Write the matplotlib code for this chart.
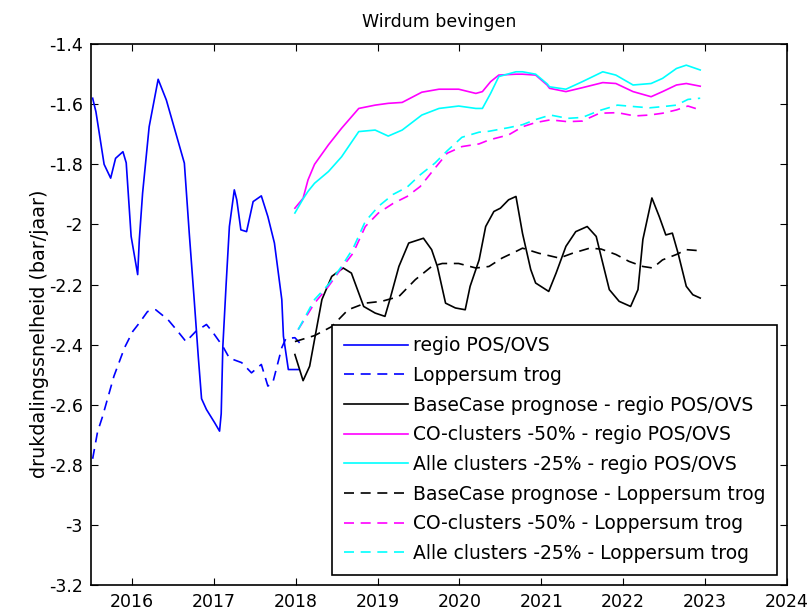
import matplotlib
matplotlib.use("Agg")
import matplotlib.pyplot as plt

# regio POS/OVS (gemeten)
regio_x = [2015.52, 2015.56, 2015.66, 2015.74, 2015.80, 2015.89, 2015.93, 2015.99, 2016.07, 2016.09,
           2016.13, 2016.21, 2016.32, 2016.42, 2016.64, 2016.70, 2016.76, 2016.81, 2016.85, 2016.91,
           2017.01, 2017.07, 2017.09, 2017.11, 2017.15, 2017.19, 2017.25, 2017.28, 2017.33, 2017.40,
           2017.48, 2017.58, 2017.66, 2017.74, 2017.83, 2017.85, 2017.91, 2018.03]
regio_y = [-1.58, -1.625, -1.80, -1.846, -1.78, -1.758, -1.795, -2.04, -2.167, -2.05,
           -1.896, -1.675, -1.517, -1.586, -1.796, -2.03, -2.25, -2.44, -2.58, -2.616,
           -2.66, -2.688, -2.63, -2.406, -2.2, -2.007, -1.885, -1.918, -2.018, -2.024,
           -1.924, -1.905, -1.974, -2.062, -2.25, -2.372, -2.483, -2.483]

# Loppersum trog (gemeten)
lop_x = [2015.52, 2015.58, 2015.64, 2015.78, 2015.91, 2016.01, 2016.09, 2016.19, 2016.29, 2016.44,
         2016.56, 2016.66, 2016.78, 2016.91, 2016.99, 2017.11, 2017.19, 2017.34, 2017.46, 2017.58,
         2017.66, 2017.72, 2017.83, 2017.88, 2017.99, 2018.05]
lop_y = [-2.78, -2.69, -2.64, -2.505, -2.41, -2.356, -2.328, -2.29, -2.284, -2.317,
         -2.356, -2.39, -2.356, -2.333, -2.36, -2.406, -2.445, -2.46, -2.494, -2.466,
         -2.538, -2.527, -2.41, -2.38, -2.377, -2.395]

# prognoses regio POS/OVS
prog_x = [2017.99, 2018.09, 2018.17, 2018.23, 2018.32, 2018.44, 2018.58, 2018.68, 2018.83, 2018.97,
          2019.09, 2019.15, 2019.26, 2019.38, 2019.56, 2019.66, 2019.73, 2019.83, 2019.95, 2020.07,
          2020.13, 2020.24, 2020.32, 2020.42, 2020.50, 2020.60, 2020.69, 2020.77, 2020.87, 2020.93,
          2021.09, 2021.18, 2021.30, 2021.42, 2021.56, 2021.67, 2021.73, 2021.83, 2021.95, 2022.09,
          2022.18, 2022.24, 2022.35, 2022.44, 2022.52, 2022.60, 2022.67, 2022.77, 2022.85, 2022.94]
base_regio = [-2.433, -2.52, -2.472, -2.383, -2.25, -2.173, -2.145, -2.162, -2.273, -2.295,
              -2.306, -2.25, -2.14, -2.062, -2.046, -2.084, -2.14, -2.262, -2.278, -2.284,
              -2.206, -2.118, -2.007, -1.957, -1.946, -1.918, -1.907, -2.03, -2.15, -2.195,
              -2.223, -2.162, -2.073, -2.024, -2.007, -2.04, -2.107, -2.217, -2.256, -2.273,
              -2.217, -2.05, -1.912, -1.974, -2.035, -2.029, -2.096, -2.206, -2.234, -2.245]

clus_x = [2017.99, 2018.09, 2018.15, 2018.23, 2018.40, 2018.56, 2018.77, 2018.97, 2019.13, 2019.30,
          2019.54, 2019.75, 2019.99, 2020.20, 2020.28, 2020.38, 2020.48, 2020.69, 2020.77, 2020.93,
          2021.07, 2021.10, 2021.30, 2021.50, 2021.75, 2021.91, 2022.12, 2022.34, 2022.48, 2022.65,
          2022.77, 2022.94]
co50_regio = [-1.946, -1.913, -1.852, -1.80, -1.735, -1.68, -1.614, -1.603, -1.597, -1.594,
              -1.56, -1.55, -1.55, -1.564, -1.558, -1.525, -1.503, -1.50, -1.50, -1.503,
              -1.536, -1.547, -1.558, -1.545, -1.528, -1.531, -1.558, -1.575, -1.558, -1.536,
              -1.531, -1.54]
alle25_regio = [-1.962, -1.915, -1.89, -1.863, -1.824, -1.775, -1.691, -1.686, -1.706, -1.686,
                -1.636, -1.614, -1.606, -1.614, -1.614, -1.564, -1.508, -1.492, -1.492, -1.50,
                -1.532, -1.542, -1.55, -1.525, -1.492, -1.503, -1.536, -1.531, -1.514, -1.481,
                -1.47, -1.486]

# prognoses Loppersum trog
base_lop_x = [2017.99, 2018.23, 2018.44, 2018.64, 2018.85, 2019.05, 2019.26, 2019.46, 2019.66, 2019.79,
              2019.99, 2020.20, 2020.36, 2020.52, 2020.69, 2020.77, 2020.97, 2021.22, 2021.38, 2021.59,
              2021.73, 2021.91, 2022.07, 2022.24, 2022.36, 2022.48, 2022.65, 2022.77, 2022.91]
base_lop = [-2.39, -2.37, -2.34, -2.284, -2.262, -2.256, -2.24, -2.184, -2.14, -2.13,
            -2.13, -2.145, -2.14, -2.112, -2.09, -2.079, -2.096, -2.112, -2.096, -2.079,
            -2.082, -2.10, -2.123, -2.14, -2.145, -2.118, -2.10, -2.084, -2.087]

lop_clus_x = [2018.03, 2018.23, 2018.40, 2018.56, 2018.70, 2018.85, 2019.01, 2019.19, 2019.36, 2019.52,
              2019.70, 2019.85, 2020.03, 2020.24, 2020.36, 2020.60, 2020.77, 2020.93, 2021.11, 2021.32,
              2021.50, 2021.71, 2021.93, 2022.14, 2022.32, 2022.48, 2022.65, 2022.79, 2022.94]
co50_lop = [-2.35, -2.262, -2.206, -2.145, -2.096, -2.007, -1.962, -1.93, -1.907, -1.874,
            -1.813, -1.763, -1.741, -1.732, -1.719, -1.702, -1.675, -1.661, -1.652, -1.658,
            -1.656, -1.63, -1.628, -1.639, -1.636, -1.63, -1.619, -1.606, -1.619]
alle25_lop = [-2.35, -2.25, -2.20, -2.14, -2.08, -1.99, -1.94, -1.90, -1.876, -1.835,
              -1.796, -1.755, -1.71, -1.693, -1.69, -1.678, -1.668, -1.651, -1.636, -1.647,
              -1.644, -1.621, -1.603, -1.608, -1.612, -1.608, -1.603, -1.584, -1.58]

plt.rcParams['font.family'] = ['DejaVu Sans']

fig = plt.figure(figsize=(8.09, 6.13), dpi=100)
ax = fig.add_axes([0.1125, 0.0457, 0.8603, 0.8823])

lw = 1.2
dash = (6, 4)
ax.plot(regio_x, regio_y, color='#0000ff', lw=lw, label='regio POS/OVS')
ax.plot(lop_x, lop_y, color='#0000ff', lw=lw, dashes=dash, label='Loppersum trog')
ax.plot(prog_x, base_regio, color='black', lw=lw, label='BaseCase prognose - regio POS/OVS')
ax.plot(clus_x, co50_regio, color='#ff00ff', lw=lw, label='CO-clusters -50% - regio POS/OVS')
ax.plot(clus_x, alle25_regio, color='#00ffff', lw=lw, label='Alle clusters -25% - regio POS/OVS')
ax.plot(base_lop_x, base_lop, color='black', lw=lw, dashes=dash, label='BaseCase prognose - Loppersum trog')
ax.plot(lop_clus_x, co50_lop, color='#ff00ff', lw=lw, dashes=dash, label='CO-clusters -50% - Loppersum trog')
ax.plot(lop_clus_x, alle25_lop, color='#00ffff', lw=lw, dashes=dash, label='Alle clusters -25% - Loppersum trog')

ax.set_xlim(2015.5, 2024)
ax.set_ylim(-3.2, -1.4)
ax.set_xticks(range(2016, 2025))
ax.set_yticks([-3.2, -3, -2.8, -2.6, -2.4, -2.2, -2, -1.8, -1.6, -1.4])
ax.set_yticklabels(['-3.2', '-3', '-2.8', '-2.6', '-2.4', '-2.2', '-2', '-1.8', '-1.6', '-1.4'])
ax.tick_params(direction='in', top=True, right=True, length=5, labelsize=12.5, pad=6)
for s in ax.spines.values():
    s.set_linewidth(1.2)

ax.set_title('Wirdum bevingen', fontsize=12.5, pad=12)
ax.set_ylabel('drukdalingssnelheid (bar/jaar)', fontsize=13.8)
ax.yaxis.set_label_coords(-0.06, 0.464)

leg = ax.legend(loc='lower right', fontsize=13.5, fancybox=False, framealpha=1,
                edgecolor='black', handlelength=3.4, borderaxespad=0.55,
                labelspacing=0.57, handletextpad=0.25, borderpad=0.62)
leg.get_frame().set_linewidth(1.2)

fig.savefig('out.png', dpi=100)
